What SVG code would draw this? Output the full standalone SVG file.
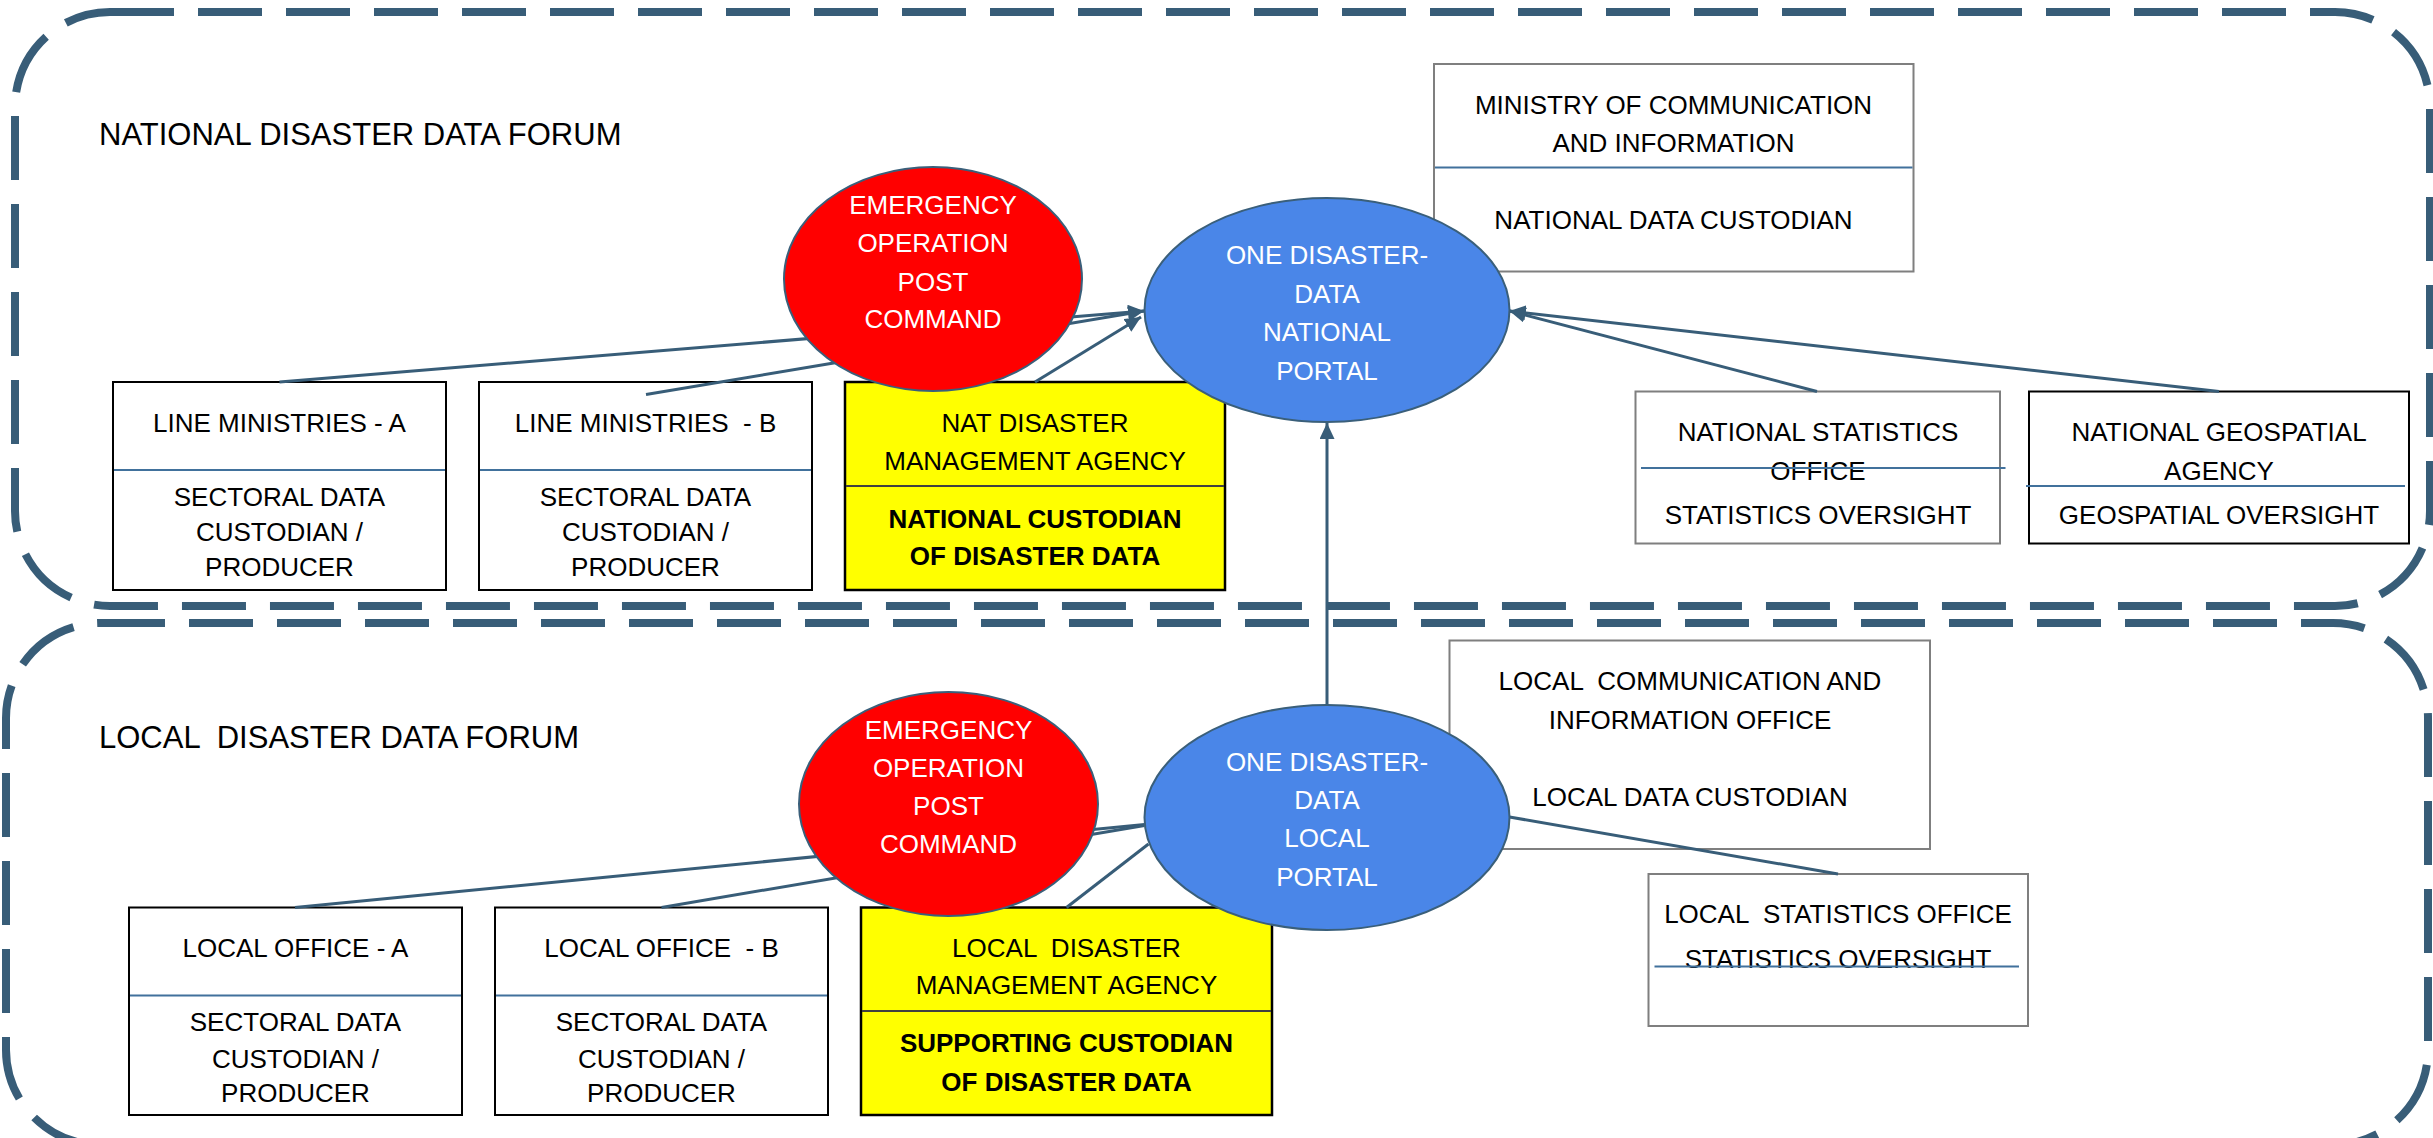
<svg xmlns="http://www.w3.org/2000/svg" width="2433" height="1138" viewBox="0 0 2433 1138">
<style>
.forum{fill:none;stroke:#385D78;stroke-width:8;stroke-dasharray:64 24}
.box{fill:#FFFFFF;stroke:#000000;stroke-width:2}
.gbox{fill:#FFFFFF;stroke:#7F7F7F;stroke-width:2}
.ybox{fill:#FFFF00;stroke:#000000;stroke-width:2.5}
.div{stroke:#41719C;stroke-width:2}
.ydiv{stroke:#404040;stroke-width:2}
.t{font-family:"Liberation Sans",Arial,sans-serif;font-size:26px;fill:#000000;text-anchor:middle}
.b{font-weight:bold}
.w{fill:#FFFFFF}
.title{font-family:"Liberation Sans",Arial,sans-serif;font-size:31px;fill:#000000}
.red{fill:#FF0000;stroke:#3A5F7A;stroke-width:2}
.blue{fill:#4A86E8;stroke:#3A5F7A;stroke-width:2}
.c{fill:none;stroke:#385D78;stroke-width:3}
.a{marker-end:url(#arr)}
</style>
<defs>
<marker id="arr" markerUnits="userSpaceOnUse" markerWidth="17" markerHeight="16" refX="16" refY="7.5" orient="auto">
<path d="M0,0 L16,7.5 L0,15 z" fill="#385D78"/>
</marker>
</defs>

<g id="national-forum">
<rect class="forum" x="15" y="12" width="2415" height="594" rx="95" ry="95"/>
<text class="title" x="99" y="145">NATIONAL DISASTER DATA FORUM</text>
</g>
<g id="local-forum">
<rect class="forum" x="6" y="623" width="2422" height="522" rx="95" ry="95"/>
<text class="title" x="99" y="748" xml:space="preserve">LOCAL  DISASTER DATA FORUM</text>
</g>

<g id="line-ministries-a">
<rect class="box" x="113" y="382" width="333" height="208"/>
<line class="div" x1="114" y1="470" x2="445" y2="470"/>
<text class="t" x="279.5" y="432">LINE MINISTRIES - A</text>
<text class="t" x="279.5" y="506">SECTORAL DATA</text>
<text class="t" x="279.5" y="541">CUSTODIAN /</text>
<text class="t" x="279.5" y="576">PRODUCER</text>
</g>
<g id="line-ministries-b">
<rect class="box" x="479" y="382" width="333" height="208"/>
<line class="div" x1="480" y1="470" x2="811" y2="470"/>
<text class="t" x="645.5" y="432" xml:space="preserve">LINE MINISTRIES  - B</text>
<text class="t" x="645.5" y="506">SECTORAL DATA</text>
<text class="t" x="645.5" y="541">CUSTODIAN /</text>
<text class="t" x="645.5" y="576">PRODUCER</text>
</g>
<g id="nat-disaster-agency">
<rect class="ybox" x="845" y="382" width="380" height="208"/>
<line class="ydiv" x1="846" y1="486" x2="1224" y2="486"/>
<text class="t" x="1035" y="432">NAT DISASTER</text>
<text class="t" x="1035" y="470">MANAGEMENT AGENCY</text>
<text class="t b" x="1035" y="528">NATIONAL CUSTODIAN</text>
<text class="t b" x="1035" y="565">OF DISASTER DATA</text>
</g>
<g id="ministry-communication">
<rect class="gbox" x="1434" y="64" width="479.5" height="207.5"/>
<line class="div" x1="1435" y1="167.5" x2="1912.5" y2="167.5"/>
<text class="t" x="1673.5" y="114">MINISTRY OF COMMUNICATION</text>
<text class="t" x="1673.5" y="151.5">AND INFORMATION</text>
<text class="t" x="1673.5" y="228.5">NATIONAL DATA CUSTODIAN</text>
</g>
<g id="national-statistics">
<rect class="gbox" x="1635.5" y="391.5" width="364.5" height="152"/>
<text class="t" x="1818" y="441">NATIONAL STATISTICS</text>
<text class="t" x="1818" y="479.5">OFFICE</text>
<text class="t" x="1818" y="524">STATISTICS OVERSIGHT</text>
<line class="div" x1="1641" y1="468" x2="2005.5" y2="468"/>
</g>
<g id="national-geospatial">
<rect class="box" x="2029" y="391.5" width="380" height="152"/>
<text class="t" x="2219" y="441">NATIONAL GEOSPATIAL</text>
<text class="t" x="2219" y="479.5">AGENCY</text>
<line class="div" x1="2026" y1="486" x2="2405" y2="486"/>
<text class="t" x="2219" y="524">GEOSPATIAL OVERSIGHT</text>
</g>

<g id="local-office-a">
<rect class="box" x="129" y="907.5" width="333" height="207.5"/>
<line class="div" x1="130" y1="995.5" x2="461" y2="995.5"/>
<text class="t" x="295.5" y="957">LOCAL OFFICE - A</text>
<text class="t" x="295.5" y="1030.5">SECTORAL DATA</text>
<text class="t" x="295.5" y="1067.5">CUSTODIAN /</text>
<text class="t" x="295.5" y="1101.5">PRODUCER</text>
</g>
<g id="local-office-b">
<rect class="box" x="495" y="907.5" width="333" height="207.5"/>
<line class="div" x1="496" y1="995.5" x2="827" y2="995.5"/>
<text class="t" x="661.5" y="957" xml:space="preserve">LOCAL OFFICE  - B</text>
<text class="t" x="661.5" y="1030.5">SECTORAL DATA</text>
<text class="t" x="661.5" y="1067.5">CUSTODIAN /</text>
<text class="t" x="661.5" y="1101.5">PRODUCER</text>
</g>
<g id="local-disaster-agency">
<rect class="ybox" x="861" y="907.5" width="411" height="207.5"/>
<line class="ydiv" x1="862" y1="1011" x2="1271" y2="1011"/>
<text class="t" x="1066.5" y="957" xml:space="preserve">LOCAL  DISASTER</text>
<text class="t" x="1066.5" y="994">MANAGEMENT AGENCY</text>
<text class="t b" x="1066.5" y="1052">SUPPORTING CUSTODIAN</text>
<text class="t b" x="1066.5" y="1090.5">OF DISASTER DATA</text>
</g>
<g id="local-communication">
<rect class="gbox" x="1449.5" y="640.5" width="480.5" height="208.5"/>
<text class="t" x="1690" y="690" xml:space="preserve">LOCAL  COMMUNICATION AND</text>
<text class="t" x="1690" y="728.5">INFORMATION OFFICE</text>
<text class="t" x="1690" y="806">LOCAL DATA CUSTODIAN</text>
</g>
<g id="local-statistics">
<rect class="gbox" x="1648.5" y="874" width="379.5" height="152"/>
<text class="t" x="1838" y="923" xml:space="preserve">LOCAL  STATISTICS OFFICE</text>
<text class="t" x="1838" y="968">STATISTICS OVERSIGHT</text>
<line class="div" x1="1654.5" y1="966.5" x2="2019" y2="966.5"/>
</g>

<g id="connectors">
<line class="c a" x1="279.5" y1="382" x2="1144" y2="311"/>
<line class="c a" x1="646" y1="394.5" x2="1144" y2="311"/>
<line class="c a" x1="1035" y1="382" x2="1141" y2="317"/>
<line class="c a" x1="1817" y1="391.5" x2="1509.5" y2="311"/>
<line class="c a" x1="2219" y1="391.5" x2="1509.5" y2="311"/>
<line class="c a" x1="1327" y1="705" x2="1327" y2="423"/>
<line class="c" x1="295" y1="907.5" x2="1144.5" y2="824.5"/>
<line class="c" x1="661.5" y1="907.5" x2="1144.5" y2="825.5"/>
<line class="c" x1="1066.5" y1="907.5" x2="1148.5" y2="844"/>
<line class="c" x1="1509.5" y1="817" x2="1838" y2="874"/>
</g>

<g id="nat-emergency-post">
<ellipse class="red" cx="933" cy="279" rx="149" ry="112"/>
<text class="t w" x="933" y="213.5">EMERGENCY</text>
<text class="t w" x="933" y="251.5">OPERATION</text>
<text class="t w" x="933" y="290.5">POST</text>
<text class="t w" x="933" y="328">COMMAND</text>
</g>
<g id="national-portal">
<ellipse class="blue" cx="1327" cy="310" rx="182.5" ry="112"/>
<text class="t w" x="1327" y="263.5">ONE DISASTER-</text>
<text class="t w" x="1327" y="302.5">DATA</text>
<text class="t w" x="1327" y="341">NATIONAL</text>
<text class="t w" x="1327" y="379.5">PORTAL</text>
</g>
<g id="local-emergency-post">
<ellipse class="red" cx="948.5" cy="804" rx="149.5" ry="112"/>
<text class="t w" x="948.5" y="739">EMERGENCY</text>
<text class="t w" x="948.5" y="777">OPERATION</text>
<text class="t w" x="948.5" y="815">POST</text>
<text class="t w" x="948.5" y="853">COMMAND</text>
</g>
<g id="local-portal">
<ellipse class="blue" cx="1327" cy="817.5" rx="182.5" ry="112.5"/>
<text class="t w" x="1327" y="770.5">ONE DISASTER-</text>
<text class="t w" x="1327" y="809">DATA</text>
<text class="t w" x="1327" y="847">LOCAL</text>
<text class="t w" x="1327" y="885.5">PORTAL</text>
</g>
</svg>
